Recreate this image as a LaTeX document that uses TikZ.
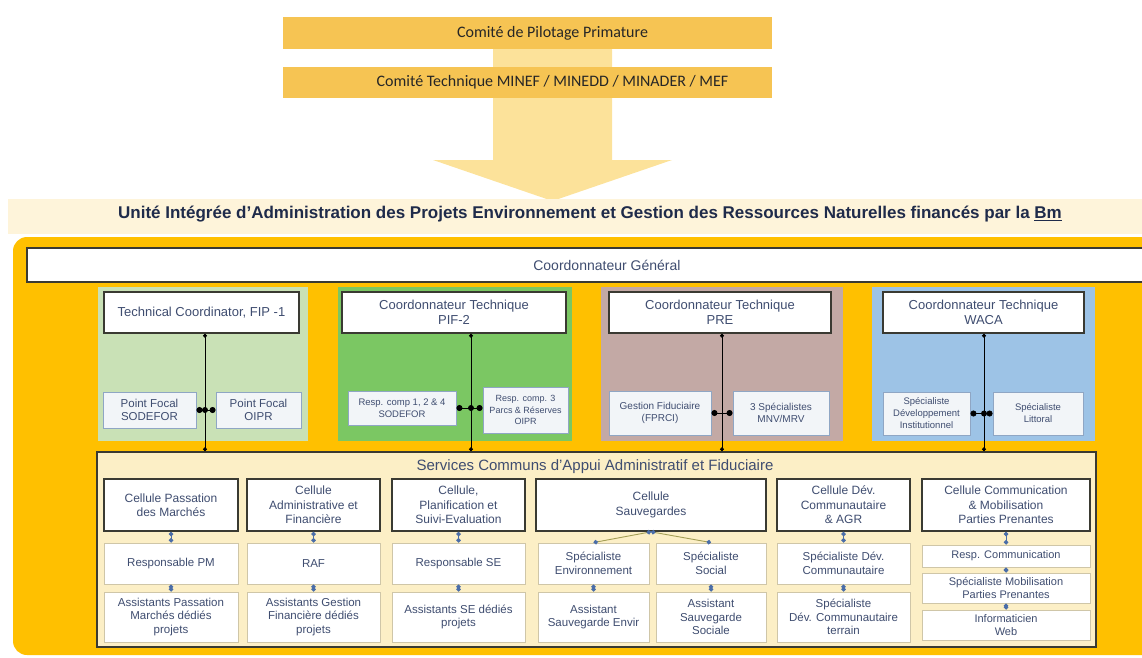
\documentclass[tikz,border=0pt]{standalone}
\usepackage{fontspec}
\setmainfont{Liberation Sans}
\newfontfamily\calibrifont{Carlito}
\usetikzlibrary{arrows.meta}

\definecolor{orangeband}{HTML}{FFC000}
\definecolor{barorange}{HTML}{F6C453}
\definecolor{arrowyellow}{HTML}{FCE29A}
\definecolor{creamband}{HTML}{FEF4DA}
\definecolor{servicefill}{HTML}{FCEFC6}
\definecolor{fipgreen}{HTML}{C9E1B6}
\definecolor{pifgreen}{HTML}{7BC763}
\definecolor{premauve}{HTML}{C3A9A5}
\definecolor{wacablue}{HTML}{9DC3E6}
\definecolor{boxdark}{HTML}{3A3A32}
\definecolor{subline}{HTML}{8FA6C4}
\definecolor{subfill}{HTML}{F2F5F8}
\definecolor{cellline}{HTML}{CFC6A8}
\definecolor{textblue}{HTML}{3F4D70}
\definecolor{titleblue}{HTML}{1F2B4A}
\definecolor{linkblue}{HTML}{4A6DA8}
\definecolor{linkolive}{HTML}{A39E55}

\tikzset{
  comite/.style={fill=barorange, minimum width=489, minimum height=32, inner sep=0,
    font=\calibrifont\fontsize{16}{18}\selectfont, text=black!85},
  projbg/.style={minimum height=154, inner sep=0},
  coordbox/.style={draw=boxdark, line width=1.6, fill=white, inner sep=0, minimum height=41,
    align=center, text=textblue, font=\fontsize{13}{15}\selectfont},
  subbox/.style={draw=subline, line width=0.9, fill=subfill, inner sep=0, align=center, text=textblue},
  cellhead/.style={draw=boxdark, line width=1.6, fill=white, inner sep=0, minimum height=52,
    align=center, text=textblue, font=\fontsize{12}{14.5}\selectfont},
  cell/.style={draw=cellline, line width=0.9, fill=white, inner sep=0, align=center,
    text=textblue, font=\fontsize{11.5}{13.5}\selectfont},
  jdot/.style={circle, fill=black, inner sep=0, minimum size=6},
  tie/.style={draw=black, line width=0.8},
  link/.style={draw=linkblue, line width=0.9, {Circle[length=4.5pt]}-{Circle[length=4.5pt]}},
}

\begin{document}
\begin{tikzpicture}[x=1pt, y=-1pt]
\clip (0,0) rectangle (1142,657);

% comites et fleche
\fill[arrowyellow] (493,17) -- (612,17) -- (612,160) -- (672,160) -- (552.5,201)
  -- (433,160) -- (493,160) -- cycle;
\node[comite] (pilotage) at (527.5,33) {\hspace*{50pt}Comité de Pilotage Primature};
\node[comite, minimum height=31] (technique) at (527.5,82.5) {\hspace*{50pt}Comité Technique MINEF / MINEDD / MINADER / MEF};

% unite integree
\fill[creamband] (8,199) rectangle (1142,234);
\node[font=\bfseries\fontsize{17}{20}\selectfont, text=titleblue] (titre) at (590,214)
  {Unité Intégrée d'Administration des Projets Environnement et Gestion des Ressources Naturelles financés par la \underline{Bm}};
\fill[orangeband, rounded corners=14] (13,237) rectangle (1180,655);
\node[draw=boxdark, line width=1.8, fill=white, minimum width=1160, minimum height=34, inner sep=0,
  anchor=west, font=\fontsize{14}{16}\selectfont, text=textblue] (general) at (26,265)
  {\makebox[1102pt]{Coordonnateur Général}\hspace{58pt}};

% projets
\node[projbg, fill=fipgreen, minimum width=210] (fipbg) at (203,364) {};
\node[projbg, fill=pifgreen, minimum width=234] (pifbg) at (455,364) {};
\node[projbg, fill=premauve, minimum width=242] (prebg) at (722,364) {};
\node[projbg, fill=wacablue, minimum width=223] (wacabg) at (983.5,364) {};

\node[coordbox, minimum width=195] (fipc) at (201.5,312.5) {Technical Coordinator, FIP -1};
\node[coordbox, minimum width=224] (pifc) at (454,312.5) {Coordonnateur Technique\\PIF-2};
\node[coordbox, minimum width=222] (prec) at (720,312.5) {Coordonnateur Technique\\PRE};
\node[coordbox, minimum width=201] (wacac) at (983.5,312.5) {Coordonnateur Technique\\WACA};

\node[subbox, minimum width=93, minimum height=36, font=\fontsize{11.5}{13}\selectfont] (fip1) at (149.5,410) {Point Focal\\SODEFOR};
\node[subbox, minimum width=85, minimum height=36, font=\fontsize{11.5}{13}\selectfont] (fip2) at (258.5,410) {Point Focal\\OIPR};
\node[subbox, minimum width=108, minimum height=34, font=\fontsize{9.5}{11.5}\selectfont] (pif1) at (402,408) {Resp. comp 1, 2 \& 4\\SODEFOR};
\node[subbox, minimum width=85, minimum height=46, font=\fontsize{9}{11.5}\selectfont] (pif2) at (525.5,410) {Resp. comp. 3\\Parcs \& Réserves\\OIPR};
\node[subbox, minimum width=102, minimum height=44, font=\fontsize{10}{12}\selectfont] (pre1) at (660,413) {Gestion Fiduciaire\\(FPRCI)};
\node[subbox, minimum width=96, minimum height=44, font=\fontsize{10}{12}\selectfont] (pre2) at (781,413) {3 Spécialistes\\MNV/MRV};
\node[subbox, minimum width=87, minimum height=43, font=\fontsize{9.5}{12}\selectfont] (waca1) at (926.5,413.5) {Spécialiste\\Développement\\Institutionnel};
\node[subbox, minimum width=90, minimum height=43, font=\fontsize{9.5}{12}\selectfont] (waca2) at (1038,413.5) {Spécialiste\\Littoral};

\node[jdot] (fipj) at (205,410) {};
\node[jdot] (pifj) at (471,408) {};
\coordinate (prej) at (722,413);
\node[jdot] (wacaj) at (984,413.5) {};

% services communs
\node[draw=boxdark, line width=1.5, fill=servicefill, minimum width=999, minimum height=195, inner sep=0] (services) at (596.5,549.5) {};
\node[font=\fontsize{15}{17}\selectfont, text=textblue] (servtitre) at (595,467) {Services Communs d'Appui Administratif et Fiduciaire};

\foreach \j in {fipj,pifj,prej,wacaj}
  \draw[tie, {Circle[length=4pt]}-{Circle[length=4pt]}] (\j |- fipc.south) -- (\j |- services.north);
\foreach \a/\b/\j in {fip1/fip2/fipj, pif1/pif2/pifj, pre1/pre2/prej, waca1/waca2/wacaj}
  \draw[tie, {Circle[length=6pt]}-{Circle[length=6pt]}] (\a.east |- \j) -- (\b.west |- \j);

\foreach \n/\cx/\w/\head/\mid/\low in {
  pm/171/134/{Cellule Passation\\des Marchés}/{Responsable PM}/{Assistants Passation\\Marchés dédiés\\projets},
  raf/313.5/133/{Cellule\\Administrative et\\Financière}/{RAF}/{Assistants Gestion\\Financière dédiés\\projets},
  se/458.5/133/{Cellule,\\Planification et\\Suivi-Evaluation}/{Responsable SE}/{Assistants SE dédiés\\projets},
  dev/843.5/133/{Cellule Dév.\\Communautaire\\\& AGR}/{Spécialiste Dév.\\Communautaire}/{Spécialiste\\Dév. Communautaire\\terrain}}
{
  \node[cellhead, minimum width=\w] (\n-h) at (\cx,505) {\head};
  \node[cell, minimum width=\w, minimum height=41] (\n-m) at (\cx,563.5) {\mid};
  \node[cell, minimum width=\w, minimum height=50] (\n-b) at (\cx,617) {\low};
  \draw[link] (\n-h) -- (\n-m);
  \draw[link] (\n-m) -- (\n-b);
}

% sauvegardes
\node[cellhead, minimum width=230] (sv-h) at (651,505) {Cellule\\Sauvegardes};
\node[cell, minimum width=111, minimum height=41] (sva-m) at (593.5,563.5) {Spécialiste\\Environnement};
\node[cell, minimum width=110, minimum height=41] (svb-m) at (711,563.5) {Spécialiste\\Social};
\node[cell, minimum width=111, minimum height=50] (sva-b) at (593.5,617) {Assistant\\Sauvegarde Envir};
\node[cell, minimum width=110, minimum height=50] (svb-b) at (711,617) {Assistant\\Sauvegarde\\Sociale};
\foreach \s in {sva,svb}
{
  \draw[draw=linkolive, line width=0.9, {Circle[length=4.5pt, color=linkblue]}-{Circle[length=4.5pt, color=linkblue]}] (sv-h.south) -- (\s-m.north);
  \draw[link] (\s-m) -- (\s-b);
}

% communication
\node[cellhead, minimum width=168] (cm-h) at (1006,505) {Cellule Communication\\\& Mobilisation\\Parties Prenantes};
\node[cell, minimum width=168, minimum height=22, font=\fontsize{11}{12.5}\selectfont] (cm-r1) at (1006,556) {Resp. Communication};
\node[cell, minimum width=168, minimum height=30, font=\fontsize{11}{12.5}\selectfont] (cm-r2) at (1006,588) {Spécialiste Mobilisation\\Parties Prenantes};
\node[cell, minimum width=168, minimum height=30, font=\fontsize{11}{12.5}\selectfont] (cm-r3) at (1006,625) {Informaticien\\Web};
\draw[link] (cm-h) -- (cm-r1);
\draw[link] (cm-r1) -- (cm-r2);
\draw[link] (cm-r2) -- (cm-r3);
\end{tikzpicture}
\end{document}
